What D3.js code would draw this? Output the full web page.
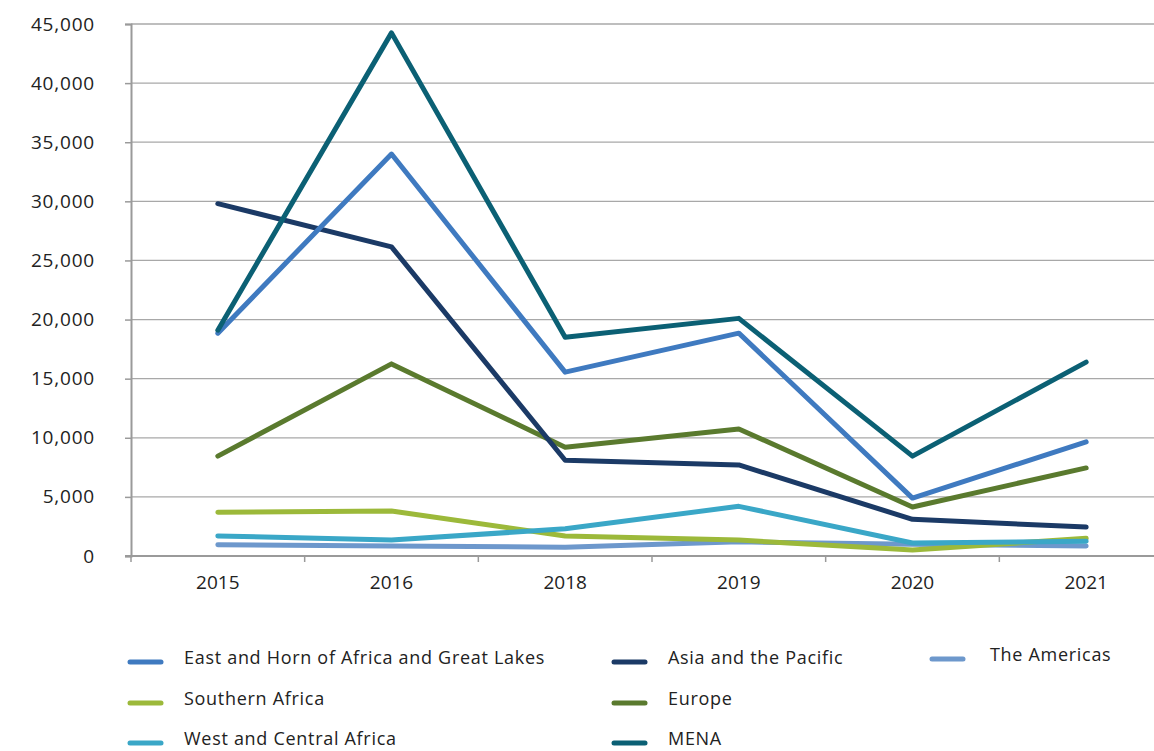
<!DOCTYPE html>
<html>
<head>
<meta charset="utf-8">
<script src="https://cdn.jsdelivr.net/npm/d3@7"></script>
<style>
  body { margin: 0; background: #fff; }
  svg { display: block; font-family: "Open Sans", Lato, sans-serif; }
</style>
</head>
<body>
<div id="chart"></div>
<script>
const years = ['2015', '2016', '2018', '2019', '2020', '2021'];
const yTicks = [0, 5000, 10000, 15000, 20000, 25000, 30000, 35000, 40000, 45000];

const eastHorn = [18850, 34000, 15550, 18850, 4900, 9650];
const asiaPacific = [29800, 26150, 8100, 7700, 3100, 2450];
const americas = [950, 850, 750, 1200, 1000, 850];
const southernAfrica = [3700, 3800, 1700, 1350, 500, 1500];
const europe = [8450, 16250, 9200, 10750, 4150, 7450];
const westCentral = [1700, 1350, 2300, 4200, 1100, 1250];
const mena = [19100, 44250, 18500, 20100, 8450, 16400];

const series = [
  { name: 'East and Horn of Africa and Great Lakes', values: eastHorn, color: '#3f7ac0', col: 0, row: 0 },
  { name: 'Asia and the Pacific', values: asiaPacific, color: '#1b3a66', col: 1, row: 0 },
  { name: 'The Americas', values: americas, color: '#6d98cc', col: 2, row: 0 },
  { name: 'Southern Africa', values: southernAfrica, color: '#9cb93a', col: 0, row: 1 },
  { name: 'Europe', values: europe, color: '#5a7a2e', col: 1, row: 1 },
  { name: 'West and Central Africa', values: westCentral, color: '#3aa7c7', col: 0, row: 2 },
  { name: 'MENA', values: mena, color: '#0b6074', col: 1, row: 2 }
];
// drawing order (back to front)
const drawOrder = ['The Americas', 'Southern Africa', 'West and Central Africa', 'Europe', 'Asia and the Pacific', 'East and Horn of Africa and Great Lakes', 'MENA'];

const W = 1154, H = 751;
const svg = d3.select('#chart').append('svg').attr('width', W).attr('height', H);

const x = d3.scaleBand().domain(years).range([131, 1173]);
const y = d3.scaleLinear().domain([0, 45000]).range([556, 24]);

// gridlines
svg.append('g')
  .selectAll('line')
  .data(yTicks.filter(d => d > 0))
  .enter().append('line')
  .attr('x1', 131).attr('x2', W)
  .attr('y1', d => y(d)).attr('y2', d => y(d))
  .attr('stroke', '#a8a8a8').attr('stroke-width', 1.3);

// y axis
const yAxis = svg.append('g')
  .attr('transform', 'translate(131,0)')
  .call(d3.axisLeft(y).tickValues(yTicks).tickSize(6).tickPadding(30).tickFormat(d3.format(',')));
yAxis.select('.domain').attr('stroke', '#9a9a9a').attr('stroke-width', 2);
yAxis.selectAll('.tick line').attr('stroke', '#9a9a9a').attr('stroke-width', 1.5);
yAxis.selectAll('text')
  .attr('font-size', 19).attr('letter-spacing', 0.8)
  .attr('fill', '#222').attr('font-family', '"Open Sans", Lato, sans-serif');

// x axis
const xAxis = svg.append('g')
  .attr('transform', 'translate(0,556)')
  .call(d3.axisBottom(x).tickSize(0).tickPadding(20));
xAxis.select('.domain').remove();
xAxis.append('line').attr('x1', 125).attr('x2', W).attr('y1', 0).attr('y2', 0)
  .attr('stroke', '#9a9a9a').attr('stroke-width', 2);
xAxis.selectAll('.tick text')
  .attr('font-size', 19).attr('fill', '#222').attr('font-family', '"Open Sans", Lato, sans-serif');
// separators between categories
xAxis.selectAll('.sep')
  .data(years)
  .enter().append('line')
  .attr('class', 'sep')
  .attr('x1', d => x(d)).attr('x2', d => x(d))
  .attr('y1', 0).attr('y2', 6)
  .attr('stroke', '#9a9a9a').attr('stroke-width', 1.5);

// lines
const line = d3.line()
  .x((d, i) => x(years[i]) + x.bandwidth() / 2)
  .y(d => y(d));

svg.append('g')
  .selectAll('path')
  .data(drawOrder.map(n => series.find(s => s.name === n)))
  .enter().append('path')
  .attr('d', d => line(d.values))
  .attr('fill', 'none')
  .attr('stroke', d => d.color)
  .attr('stroke-width', 5)
  .attr('stroke-linecap', 'round')
  .attr('stroke-linejoin', 'round');

// legend
const colX = [128, 612, 930];
const colTextX = [184, 668, 990];
const rowY = [662, 703, 743];
const legend = svg.append('g').selectAll('g')
  .data(series)
  .enter().append('g')
  .attr('transform', d => `translate(0,${rowY[d.row] - (d.col === 2 ? 3 : 0)})`);
legend.append('line')
  .attr('x1', d => colX[d.col] + 2).attr('x2', d => colX[d.col] + 33)
  .attr('y1', 0).attr('y2', 0)
  .attr('stroke', d => d.color)
  .attr('stroke-width', 5)
  .attr('stroke-linecap', 'round');
legend.append('text')
  .attr('x', d => colTextX[d.col])
  .attr('y', 2)
  .attr('font-size', 18)
  .attr('letter-spacing', 0.7)
  .attr('fill', '#222')
  .text(d => d.name);
</script>
</body>
</html>
